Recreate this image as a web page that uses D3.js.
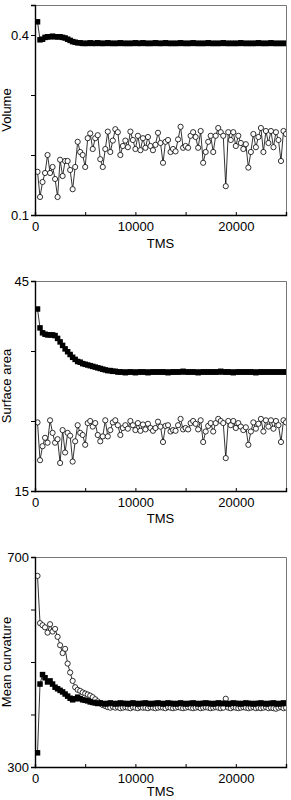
<!DOCTYPE html>
<html><head><meta charset="utf-8">
<script src="https://cdn.jsdelivr.net/npm/d3@7"></script>
<style>body{margin:0;background:#fff}svg{display:block}</style>
</head><body><svg id="c" width="291" height="800"></svg>
<script>
// Sampling grid (TMS)
const tms = d3.range(250, 25001, 250);

const volumeSquares = [0.422,0.392,0.393,0.396,0.397,0.397,0.398,0.397,0.397,0.397,
 0.396,0.395,0.393,0.391,0.389,0.388,0.387,0.387,0.386,0.386,
 0.386,0.387,0.386,0.386,0.387,0.386,0.386,0.386,0.387,0.386,
 0.386,0.386,0.386,0.387,0.386,0.386,0.386,0.386,0.386,0.387,
 0.386,0.386,0.387,0.386,0.386,0.386,0.386,0.387,0.386,0.386,
 0.386,0.387,0.386,0.386,0.386,0.386,0.386,0.387,0.386,0.386,
 0.386,0.386,0.387,0.386,0.386,0.386,0.386,0.386,0.387,0.386,
 0.386,0.386,0.386,0.386,0.387,0.386,0.386,0.386,0.386,0.386,
 0.386,0.387,0.386,0.386,0.386,0.386,0.386,0.386,0.387,0.386,
 0.386,0.386,0.386,0.387,0.386,0.386,0.386,0.386,0.386,0.386];

const volumeCircles = [0.172,0.13,0.155,0.17,0.20,0.17,0.18,0.16,0.13,0.192,
 0.165,0.19,0.19,0.175,0.143,0.18,0.222,0.205,0.20,0.18,
 0.228,0.236,0.21,0.228,0.233,0.193,0.18,0.21,0.239,0.205,
 0.224,0.243,0.238,0.20,0.215,0.224,0.213,0.239,0.225,0.21,
 0.232,0.208,0.228,0.212,0.23,0.215,0.208,0.217,0.237,0.22,
 0.187,0.222,0.225,0.205,0.21,0.206,0.226,0.247,0.212,0.215,
 0.212,0.232,0.238,0.23,0.212,0.24,0.187,0.205,0.222,0.232,
 0.205,0.232,0.245,0.238,0.232,0.148,0.238,0.225,0.238,0.215,
 0.232,0.22,0.21,0.218,0.179,0.205,0.235,0.213,0.23,0.245,
 0.205,0.24,0.22,0.24,0.213,0.238,0.225,0.19,0.24,0.235];

const surfaceSquares = [41.0,38.3,37.6,37.4,37.3,37.3,37.3,37.2,36.8,36.3,
 35.8,35.3,34.9,34.5,34.1,33.8,33.5,33.4,33.2,33.1,
 33.0,32.9,32.8,32.7,32.6,32.5,32.4,32.3,32.2,32.2,
 32.1,32.1,32.0,32.0,32.0,31.9,32.0,32.0,32.0,31.9,
 32.0,32.0,32.0,32.0,31.9,32.0,32.0,32.0,32.0,32.0,
 32.0,32.0,31.9,32.0,32.0,32.0,32.0,32.0,32.1,32.0,
 32.0,32.0,32.0,32.0,31.9,32.0,32.0,32.0,32.0,32.0,
 32.0,32.0,32.0,32.1,32.0,32.0,32.0,32.0,31.9,32.0,
 32.0,32.0,32.0,32.0,32.0,32.0,32.0,31.9,32.0,32.0,
 32.0,32.0,32.0,32.0,32.0,32.0,32.0,32.0,32.0,32.0];

const surfaceCircles = [24.8,19.4,21.4,22.6,21.9,25.1,23.3,21.9,22.4,19.0,
 23.7,20.5,23.3,22.9,19.2,22.1,24.4,23.3,23.0,21.6,
 24.7,25.0,24.2,24.7,23.0,22.1,22.8,25.1,22.8,23.7,
 24.8,25.1,24.4,23.0,24.0,24.4,23.9,25.0,24.4,23.7,
 24.7,23.6,24.5,23.8,24.6,24.0,23.6,24.0,24.9,24.2,
 22.0,24.3,24.4,23.5,23.7,23.6,24.4,25.3,23.8,24.0,
 23.8,24.7,25.0,24.6,23.8,25.1,22.0,23.5,24.3,24.7,
 23.5,24.7,25.3,25.0,24.7,19.7,25.0,24.4,25.0,24.0,
 24.7,24.2,23.7,24.1,21.6,23.5,24.8,23.9,24.6,25.3,
 23.5,25.1,24.2,25.1,23.9,25.0,24.4,22.0,25.1,24.8];

const curvatureSquares = [327,458,476,470,462,464,458,452,449,446,
 443,439,435,431,428,430,433,430,428,427,
 426,424,423,422,421,422,421,420,421,422,
 421,420,421,422,421,421,420,421,422,421,
 420,421,421,422,421,420,421,421,422,421,
 420,421,422,421,421,420,421,422,421,420,
 421,421,422,421,420,421,421,422,421,421,
 420,421,422,421,421,421,420,421,422,421,
 421,420,421,422,421,421,420,421,421,422,
 421,420,421,421,422,421,420,421,422,421];

const curvatureCircles = [664,574,570,566,556,572,558,563,548,532,
 517,525,497,480,464,452,447,445,442,440,
 438,436,433,429,425,421,418,416,414,413,
 415,413,414,412,413,414,413,412,414,413,
 412,414,413,413,412,414,413,412,413,414,
 413,412,414,413,412,413,414,413,412,413,
 414,413,412,413,414,412,413,414,413,412,
 413,414,413,412,413,430,413,412,414,413,
 412,413,414,413,412,413,414,412,413,412,
 413,414,412,413,412,411,413,414,412,413];

const xTicks = [0, 5000, 10000, 15000, 20000, 25000];
const xTickLabels = ["0", "", "10000", "", "20000", ""];
const xTitle = "TMS";

const yLabels = ["Volume", "Surface area", "Mean curvature"];
const yDomains = [[0.1, 0.45], [15, 45], [300, 700]];
const yTicks = [[0.1, 0.2, 0.3, 0.4], [15, 25, 35, 45], [300, 400, 500, 600, 700]];
const yTickLabels = [["0.1", "", "", "0.4"], ["15", "", "", "45"], ["300", "", "", "", "700"]];
const squareSeries = [volumeSquares, surfaceSquares, curvatureSquares];
const circleSeries = [volumeCircles, surfaceCircles, curvatureCircles];

const svg = d3.select("#c");
const L = 35, R = 286, H = 210;
const tops = [5, 281, 557];
const titleOffsets = [33, 32, 29];
const font = "Liberation Sans, Arial, Helvetica, sans-serif";

const x = d3.scaleLinear().domain([0, 25000]).range([L, R]);

tops.forEach((top, p) => {
  const y = d3.scaleLinear().domain(yDomains[p]).range([top + H, top]);
  const g = svg.append("g");
  const clipId = "clip" + p;
  svg.append("clipPath").attr("id", clipId).append("rect")
    .attr("x", L).attr("y", top).attr("width", R - L).attr("height", H);

  // frame top/right
  g.append("path").attr("d", `M${L},${top + 0.5}H${R + 0.5}V${top + H}`)
    .attr("fill", "none").attr("stroke", "#777").attr("stroke-width", 1);

  const plot = g.append("g").attr("clip-path", `url(#${clipId})`);
  const line = d3.line().x((d, i) => x(tms[i])).y(d => y(d));

  // circles series
  plot.append("path").datum(circleSeries[p]).attr("d", line)
    .attr("fill", "none").attr("stroke", "#000").attr("stroke-width", 0.8);
  plot.selectAll("circle.c").data(circleSeries[p]).join("circle")
    .attr("cx", (d, i) => x(tms[i])).attr("cy", d => y(d)).attr("r", 2.6)
    .attr("fill", "#fff").attr("stroke", "#000").attr("stroke-width", 0.8);

  // squares series
  plot.append("path").datum(squareSeries[p]).attr("d", line)
    .attr("fill", "none").attr("stroke", "#000").attr("stroke-width", 0.8);
  plot.selectAll("rect.s").data(squareSeries[p]).join("rect")
    .attr("x", (d, i) => x(tms[i]) - 2.75).attr("y", d => y(d) - 2.75)
    .attr("width", 5.5).attr("height", 5.5).attr("fill", "#000");

  // y axis
  const ya = d3.axisLeft(y).tickValues(yTicks[p]).tickSize(4).tickPadding(2)
    .tickFormat((d, i) => yTickLabels[p][i]);
  const yg = g.append("g").attr("transform", `translate(${L},0)`).call(ya);
  yg.select(".domain").attr("stroke", "#000").attr("stroke-width", 1.4);
  yg.selectAll(".tick line").attr("stroke", "#000").attr("stroke-width", 1);
  yg.selectAll("text").attr("font-family", font).attr("font-size", 13).attr("fill", "#000");

  // x axis (ticks inward)
  const xa = d3.axisBottom(x).tickValues(xTicks).tickSize(-3).tickPadding(0)
    .tickFormat((d, i) => xTickLabels[i]);
  const xg = g.append("g").attr("transform", `translate(0,${top + H})`).call(xa);
  xg.select(".domain").attr("stroke", "#000").attr("stroke-width", 1.4);
  xg.selectAll(".tick line").attr("stroke", "#000").attr("stroke-width", 1);
  xg.selectAll("text").attr("font-family", font).attr("font-size", 13).attr("fill", "#000")
    .attr("dy", null).attr("y", 16);

  g.append("text").attr("x", (L + R) / 2).attr("y", top + H + titleOffsets[p])
    .attr("text-anchor", "middle").attr("font-family", font).attr("font-size", 13)
    .text(xTitle);

  g.append("text").attr("transform", `translate(11,${top + H / 2}) rotate(-90)`)
    .attr("text-anchor", "middle").attr("font-family", font).attr("font-size", 13)
    .text(yLabels[p]);
});
</script>
</body></html>
